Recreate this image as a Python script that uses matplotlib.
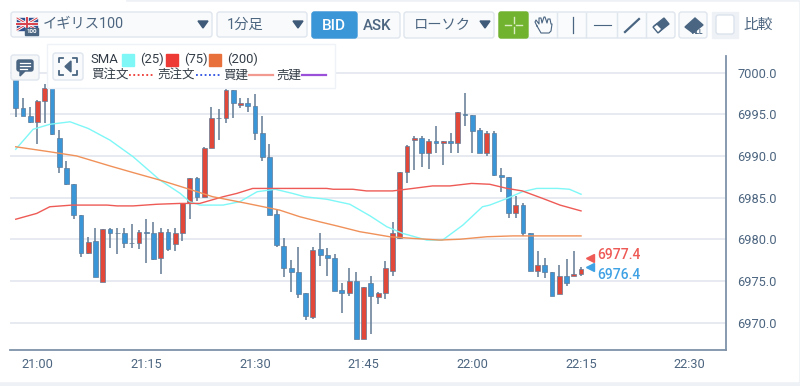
#!/usr/bin/env python3
import matplotlib

matplotlib.use("Agg")
import matplotlib.pyplot as plt
from matplotlib.patches import FancyBboxPatch, Polygon, Rectangle

plt.rcParams["font.family"] = ["Roboto", "Noto Sans CJK JP", "DejaVu Sans"]

# minutes after 21:00
MINUTES = list(range(-3, 76))
OPENS = [
    6999.3, 6995.7, 6994.8, 6994.1, 6996.6, 6998.1, 6992.2, 6988.6, 6986.6, 6982.9,
    6978.3, 6979.8, 6974.9, 6981.2, 6980.8, 6980.8, 6979.6, 6979.5, 6980.9, 6980.7,
    6977.7, 6980.9, 6979.4, 6980.8, 6984.4, 6987.3, 6985.1, 6990.9, 6994.5, 6994.5,
    6997.9, 6996.1, 6996.4, 6996.0, 6992.8, 6989.9, 6983.0, 6979.2, 6976.6, 6976.1,
    6973.5, 6970.7, 6978.8, 6978.1, 6977.8, 6973.9, 6973.5, 6975.0, 6968.0, 6974.8,
    6973.1, 6973.5, 6976.2, 6980.2, 6988.1, 6991.9, 6992.2, 6990.3, 6991.8, 6991.5,
    6991.8, 6991.6, 6995.0, 6994.9, 6993.1, 6990.4, 6992.7, 6987.7, 6987.5, 6983.1,
    6984.1, 6980.8, 6976.2, 6976.9, 6976.1, 6973.4, 6975.6, 6975.6, 6975.8,
]
HIGHS = [
    6999.9, 6996.9, 6995.9, 6996.7, 6998.6, 6998.1, 6993.1, 6989.4, 6986.6, 6982.9,
    6980.3, 6981.3, 6981.2, 6981.3, 6981.4, 6981.4, 6981.8, 6981.1, 6982.4, 6982.1,
    6981.3, 6981.2, 6981.3, 6984.3, 6987.3, 6987.5, 6991.1, 6995.9, 6995.6, 6998.5,
    6997.9, 6997.0, 6997.0, 6997.4, 6994.8, 6991.4, 6983.5, 6980.2, 6977.5, 6979.1,
    6973.5, 6979.1, 6980.8, 6978.9, 6978.2, 6974.7, 6976.5, 6976.1, 6974.3, 6975.6,
    6973.7, 6977.4, 6982.1, 6988.1, 6991.3, 6992.4, 6992.4, 6992.0, 6993.6, 6991.8,
    6992.7, 6995.3, 6997.5, 6994.9, 6993.3, 6993.0, 6993.0, 6988.6, 6987.5, 6985.2,
    6984.3, 6980.8, 6978.6, 6977.7, 6976.1, 6976.9, 6977.6, 6978.6, 6976.7,
]
LOWS = [
    6994.7, 6994.8, 6993.9, 6991.4, 6994.0, 6992.5, 6987.9, 6986.5, 6982.4, 6977.9,
    6978.2, 6975.5, 6974.9, 6978.9, 6978.2, 6978.9, 6978.9, 6978.8, 6977.1, 6977.5,
    6975.8, 6978.6, 6978.6, 6979.8, 6982.4, 6984.6, 6985.1, 6990.9, 6991.9, 6993.9,
    6994.6, 6995.7, 6995.3, 6991.9, 6989.4, 6982.9, 6979.1, 6975.5, 6973.7, 6973.0,
    6970.3, 6970.4, 6976.8, 6975.6, 6973.8, 6971.2, 6973.2, 6968.0, 6968.0, 6968.6,
    6972.2, 6972.8, 6975.6, 6980.0, 6986.8, 6988.3, 6988.7, 6988.4, 6990.4, 6988.9,
    6990.4, 6990.4, 6993.6, 6990.4, 6990.4, 6990.0, 6987.6, 6985.7, 6982.5, 6982.6,
    6980.4, 6976.2, 6975.5, 6975.3, 6973.2, 6973.4, 6974.4, 6975.6, 6975.6,
]
CLOSES = [
    6995.7, 6994.8, 6994.1, 6996.6, 6998.2, 6992.6, 6988.7, 6986.6, 6982.9, 6978.4,
    6979.7, 6975.5, 6981.2, 6980.7, 6980.7, 6979.5, 6979.5, 6980.9, 6980.7, 6977.6,
    6980.9, 6978.8, 6980.8, 6984.3, 6987.3, 6985.1, 6991.0, 6994.5, 6994.6, 6997.9,
    6996.4, 6996.4, 6996.0, 6992.8, 6989.9, 6982.9, 6979.3, 6976.6, 6976.1, 6973.4,
    6970.8, 6978.7, 6978.1, 6977.8, 6973.8, 6973.6, 6975.0, 6968.0, 6974.3, 6973.2,
    6973.5, 6976.5, 6980.8, 6988.1, 6991.2, 6992.2, 6990.3, 6991.8, 6991.5, 6991.8,
    6991.5, 6995.3, 6994.9, 6993.0, 6990.4, 6992.7, 6987.7, 6987.5, 6983.1, 6984.1,
    6980.8, 6976.2, 6976.9, 6976.1, 6973.2, 6975.6, 6974.8, 6975.8, 6976.4,
]

SMA25_X = [-3, -0.6, 1.7, 4.5, 7, 10, 13.2, 16.9, 19.7, 21, 22.4, 25.6, 27.9, 30.3, 32.8, 35.2, 36.9,
           39.9, 43.1, 45.9, 48.2, 50.4, 53.7, 55.9, 58.7, 61.4, 62.4, 64.8, 66.9, 68.9, 71.8, 73.4, 75]
SMA25_Y = [6990.8, 6993.2, 6993.8, 6994.1, 6993.3, 6991.9, 6989.9, 6987.1, 6985.5, 6984.5, 6984.1,
           6984.1, 6984.5, 6985.7, 6986.0, 6985.5, 6985.1, 6984.8, 6984.2, 6982.8, 6981.5, 6980.7,
           6979.9, 6979.9, 6981.7, 6983.9, 6984.1, 6984.9, 6985.7, 6986.1, 6986.1, 6986.0, 6985.4]
SMA75_X = [-3, -0.1, 1.7, 4.8, 9.6, 11, 13.2, 16.5, 19.7, 22.4, 25.6, 27.5, 29.7, 33.4, 39.9, 40.8, 43.5,
           45.4, 49, 51.8, 54.5, 56.9, 59.9, 62.4, 64.8, 66.9, 69.7, 72.1, 75]
SMA75_Y = [6982.4, 6983.1, 6983.9, 6984.1, 6984.1, 6984.0, 6984.0, 6984.2, 6984.3, 6984.3, 6985.1,
           6985.5, 6986.1, 6986.1, 6986.1, 6986.0, 6986.0, 6985.8, 6985.8, 6986.1, 6986.4, 6986.4,
           6986.7, 6986.6, 6986.1, 6985.8, 6984.9, 6984.1, 6983.4]
SMA200_X = [-3, 1.7, 5.4, 10, 13.2, 16.9, 20.6, 24.2, 28.9, 33.4, 36.2, 38.9, 41.3, 44.5, 45.9, 48.6,
            51.8, 55.5, 58.3, 62, 65.6, 75]
SMA200_Y = [6991.1, 6990.5, 6990.0, 6988.8, 6988.0, 6987.1, 6986.1, 6985.1, 6984.3, 6983.5, 6982.7,
            6982.1, 6981.6, 6980.9, 6980.7, 6980.3, 6980.1, 6979.9, 6980.0, 6980.3, 6980.4, 6980.4]

PRICE_TICKS = [6970, 6975, 6980, 6985, 6990, 6995, 7000]
TIME_TICKS = [0, 15, 30, 45, 60, 75, 90]
TIME_LABELS = ["21:00", "21:15", "21:30", "21:45", "22:00", "22:15", "22:30"]
ASK_PRICE = 6977.4
BID_PRICE = 6976.4

BLUE = "#3b96d8"
RED = "#e2483a"
CYAN = "#7ff7f7"
LINE_RED = "#ee5a55"
ORANGE = "#f0915a"
TEXT = "#4c6580"
AXIS = "#7e92a8"
GRID = "#e7ebf1"
BORDER = "#dfe6ee"
ICON = "#4a6582"
W, H = 800, 386


def button(ui, x0, y0, x1, y1, face="#f8fafb", edge=BORDER, zorder=2):
    ui.add_patch(FancyBboxPatch((x0 + 2, y0 + 2), x1 - x0 - 4, y1 - y0 - 4, boxstyle="round,pad=2,rounding_size=2.5",
                                facecolor=face, edgecolor=edge, linewidth=1, zorder=zorder))


def caret(ui, x, y):
    ui.add_patch(Polygon([(x - 5, y - 3.5), (x + 5, y - 3.5), (x, y + 3.5)], color="#3f5a78", zorder=4))


def draw_chart(ax):
    for minute, o, h, l, c in zip(MINUTES, OPENS, HIGHS, LOWS, CLOSES):
        color = RED if c >= o else BLUE
        ax.vlines(minute, l, h, color="#6d849c", linewidth=1.2, zorder=3)
        ax.bar(minute, abs(c - o), bottom=min(o, c), width=0.66, color=color, edgecolor="#5f7c98",
               linewidth=0.5, zorder=4)
    ax.plot(SMA25_X, SMA25_Y, color=CYAN, linewidth=1.0, zorder=5)
    ax.plot(SMA75_X, SMA75_Y, color=LINE_RED, linewidth=1.0, zorder=5)
    ax.plot(SMA200_X, SMA200_Y, color=ORANGE, linewidth=1.0, zorder=5)

    ax.plot(76.3, ASK_PRICE + 0.3, marker="<", color=LINE_RED, markersize=6, zorder=6)
    ax.plot(76.3, BID_PRICE + 0.3, marker="<", color="#3ea2e4", markersize=6, zorder=6)
    ax.annotate(f"{ASK_PRICE:.1f}", (77.3, ASK_PRICE), xytext=(0, 4.5), textcoords="offset points",
                color=LINE_RED, fontsize=10, fontweight="medium", va="center", zorder=6)
    ax.annotate(f"{BID_PRICE:.1f}", (77.3, BID_PRICE), xytext=(0, -4.5), textcoords="offset points",
                color="#3ea2e4", fontsize=10, fontweight="medium", va="center", zorder=6)

    ax.set_xlim(-3.79, 95.0)
    ax.set_ylim(6966.76, 7002.0)
    ax.set_xticks(TIME_TICKS)
    ax.set_xticklabels(TIME_LABELS)
    ax.set_yticks(PRICE_TICKS)
    ax.set_yticklabels([f"{p:.1f}" for p in PRICE_TICKS])
    ax.yaxis.tick_right()
    ax.tick_params(axis="both", length=0, labelcolor=TEXT, labelsize=9.2)
    ax.tick_params(axis="x", pad=6)
    ax.tick_params(axis="y", pad=8)
    ax.grid(True, axis="y", color=GRID, linewidth=1.4, zorder=0)
    ax.set_axisbelow(True)
    ax.spines["top"].set_visible(False)
    ax.spines["left"].set_visible(False)
    ax.spines["right"].set_color(AXIS)
    ax.spines["bottom"].set_color(AXIS)
    ax.spines["right"].set_linewidth(1.3)
    ax.spines["bottom"].set_linewidth(1.3)


def draw_flag(ui):
    ui.add_patch(Rectangle((17, 18), 20, 12, color="#31508f", zorder=3))
    ui.plot([17, 37], [18, 30], color="white", linewidth=2, zorder=4)
    ui.plot([17, 37], [30, 18], color="white", linewidth=2, zorder=4)
    ui.plot([17, 37], [18, 30], color="#d8404a", linewidth=0.7, zorder=5)
    ui.plot([17, 37], [30, 18], color="#d8404a", linewidth=0.7, zorder=5)
    ui.plot([27, 27], [18, 30], color="white", linewidth=2.6, zorder=5)
    ui.plot([17, 37], [24, 24], color="white", linewidth=2.6, zorder=5)
    ui.plot([27, 27], [18, 30], color="#d8404a", linewidth=1.4, zorder=6)
    ui.plot([17, 37], [24, 24], color="#d8404a", linewidth=1.4, zorder=6)
    ui.add_patch(Rectangle((25, 28), 13, 7, color="#4a6582", zorder=7))
    ui.text(31.5, 31.7, "100", color="white", fontsize=4.5, ha="center", va="center", fontweight="bold", zorder=8)


def draw_toolbar(ui):
    button(ui, 11, 12, 212, 37)
    draw_flag(ui)
    ui.text(43, 24.5, "イギリス100", color=TEXT, fontsize=10.3, va="center", zorder=4)
    caret(ui, 203, 24.5)
    button(ui, 217, 12, 307, 37)
    ui.text(227, 25, "1分足", color=TEXT, fontsize=10.3, va="center", zorder=4)
    caret(ui, 298, 24.5)

    button(ui, 312, 12, 400, 38, face="#f8fafb")
    ui.add_patch(FancyBboxPatch((314, 14), 41, 22, boxstyle="round,pad=2,rounding_size=2.5", facecolor=BLUE,
                                edgecolor=BLUE, zorder=3))
    ui.text(334, 25.5, "BID", color="white", fontsize=11, fontweight="medium", ha="center", va="center", zorder=4)
    ui.text(377.5, 25.5, "ASK", color=TEXT, fontsize=10.8, fontweight="medium", ha="center", va="center", zorder=4)

    button(ui, 404, 12, 494, 38)
    ui.text(414, 25, "ローソク", color=TEXT, fontsize=10.3, va="center", zorder=4)
    caret(ui, 485, 24.5)

    # drawing tools
    button(ui, 499, 12, 675, 38, face="#f9fbfc")
    for x in (557, 586, 617, 646):
        ui.plot([x, x], [13, 37], color=BORDER, linewidth=1, zorder=3)
    ui.add_patch(FancyBboxPatch((501, 14), 25, 22, boxstyle="round,pad=2,rounding_size=2", facecolor="#71b32e",
                                edgecolor="#71b32e", zorder=3))
    ui.plot([505, 511], [25, 25], color="#d9ecc2", linewidth=1.0, zorder=4)
    ui.plot([516, 522], [25, 25], color="#d9ecc2", linewidth=1.0, zorder=4)
    ui.plot([514, 514], [17, 23], color="#d9ecc2", linewidth=1.0, zorder=4)
    ui.plot([514, 514], [27, 33], color="#d9ecc2", linewidth=1.0, zorder=4)

    # hand
    hand_x = [537, 535, 536, 539, 539, 541, 542, 544, 545, 547, 548, 550, 551, 552, 551, 549, 541, 537]
    hand_y = [26, 22, 20, 24, 18, 18, 23, 17, 17, 23, 19, 19, 24, 24, 31, 33, 33, 26]
    ui.plot(hand_x, hand_y, color=ICON, linewidth=0.8, zorder=4)

    ui.plot([573, 573], [17, 33], color=ICON, linewidth=0.9, zorder=4)
    ui.plot([594, 611], [25, 25], color=ICON, linewidth=0.8, zorder=4)
    ui.plot([625, 639], [32, 19], color=ICON, linewidth=1.6, zorder=4)
    ui.add_patch(Polygon([(654, 26), (664, 18), (669, 24), (659, 32)], facecolor=ICON, edgecolor=ICON, zorder=4))
    ui.add_patch(Polygon([(653, 27), (657, 24), (662, 29), (658, 33)], facecolor="white", edgecolor=ICON,
                         linewidth=1, zorder=5))

    button(ui, 679, 12, 707, 38)
    ui.add_patch(Polygon([(685, 27), (695, 18), (703, 25), (693, 33)], facecolor=ICON, edgecolor=ICON, zorder=4))
    ui.text(698, 32.5, "ALL", color=ICON, fontsize=4.8, fontweight="bold", ha="center", va="center", zorder=5)

    ui.add_patch(Rectangle((712, 12), 26, 26, color="#eef2f6", zorder=2))
    button(ui, 716, 15, 734, 34, face="white", edge="#dbe3ec", zorder=3)
    ui.text(743, 24.5, "比較", color=TEXT, fontsize=10.6, va="center", zorder=4)


def draw_legend(ui):
    ui.add_patch(Rectangle((47, 44), 288, 44, facecolor="white", edgecolor="#eff2f6", linewidth=1, zorder=2))
    button(ui, 53, 53, 83, 80, face="#f8fafb")
    button(ui, 11, 55, 39, 80, face="#f5f7f9")

    # comment icon
    ui.add_patch(FancyBboxPatch((18, 61), 14, 9, boxstyle="round,pad=1,rounding_size=2", facecolor=ICON,
                                edgecolor=ICON, zorder=4))
    ui.add_patch(Polygon([(20, 71), (25, 71), (20, 76)], color=ICON, zorder=4))
    ui.plot([20, 30], [63, 63], color="white", linewidth=0.9, zorder=5)
    ui.plot([20, 30], [66, 66], color="white", linewidth=0.9, zorder=5)
    ui.plot([20, 27], [69, 69], color="white", linewidth=0.9, zorder=5)

    # expand icon
    for xs, ys in [
        ([59, 59, 63], [62, 58, 58]),
        ([73, 77, 77], [58, 58, 62]),
        ([59, 59, 63], [71, 75, 75]),
        ([73, 77, 77], [75, 75, 71]),
    ]:
        ui.plot(xs, ys, color=ICON, linewidth=1.3, zorder=4)
    ui.add_patch(Polygon([(71, 61), (71, 72), (65, 66.5)], color=ICON, zorder=4))

    ui.text(90.5, 59.5, "SMA", color="#333c46", fontsize=9.4, va="center", zorder=4)
    for x, color, label in [(122, CYAN, "(25)"), (166, "#ee3a35", "(75)"), (209, "#e8703a", "(200)")]:
        ui.add_patch(Rectangle((x, 54), 12, 12, color=color, zorder=4))
        ui.text(x + 18, 59.5, label, color="#333c46", fontsize=9.4, va="center", zorder=4)

    row2 = [
        (91, "買注文", 129, "#ee3a35", (0, (1, 1.4)), 1.3),
        (157, "売注文", 196, "#2b4fe0", (0, (1, 1.4)), 1.3),
        (223, "買建", 249, "#f29a90", "-", 1.6),
        (276, "売建", 302, "#9a50d8", "-", 1.6),
    ]
    for text_x, label, line_x, color, style, width in row2:
        ui.text(text_x, 75, label, color="#333c46", fontsize=9, va="center", zorder=4)
        ui.plot([line_x, line_x + 24], [75, 75], color=color, linestyle=style, linewidth=width, zorder=4)


def main():
    fig = plt.figure(figsize=(W / 100, H / 100), dpi=100, facecolor="#eef2f6")

    page = fig.add_axes([0, 0, 1, 1], zorder=0)
    page.set_xlim(0, W)
    page.set_ylim(H, 0)
    page.axis("off")
    page.add_patch(Rectangle((0, 2), 798, 379, color="white", zorder=1))
    page.add_patch(Rectangle((0, 0), 125, 2, color="white", zorder=1))

    ax = fig.add_axes([10 / W, 1 - 349.5 / H, 716 / W, 293.5 / H], zorder=1)
    ax.patch.set_alpha(0)
    draw_chart(ax)

    ui = fig.add_axes([0, 0, 1, 1], zorder=2)
    ui.set_xlim(0, W)
    ui.set_ylim(H, 0)
    ui.axis("off")
    ui.patch.set_alpha(0)
    draw_toolbar(ui)
    draw_legend(ui)

    fig.savefig("out.png", dpi=100, facecolor=fig.get_facecolor())


if __name__ == "__main__":
    main()
